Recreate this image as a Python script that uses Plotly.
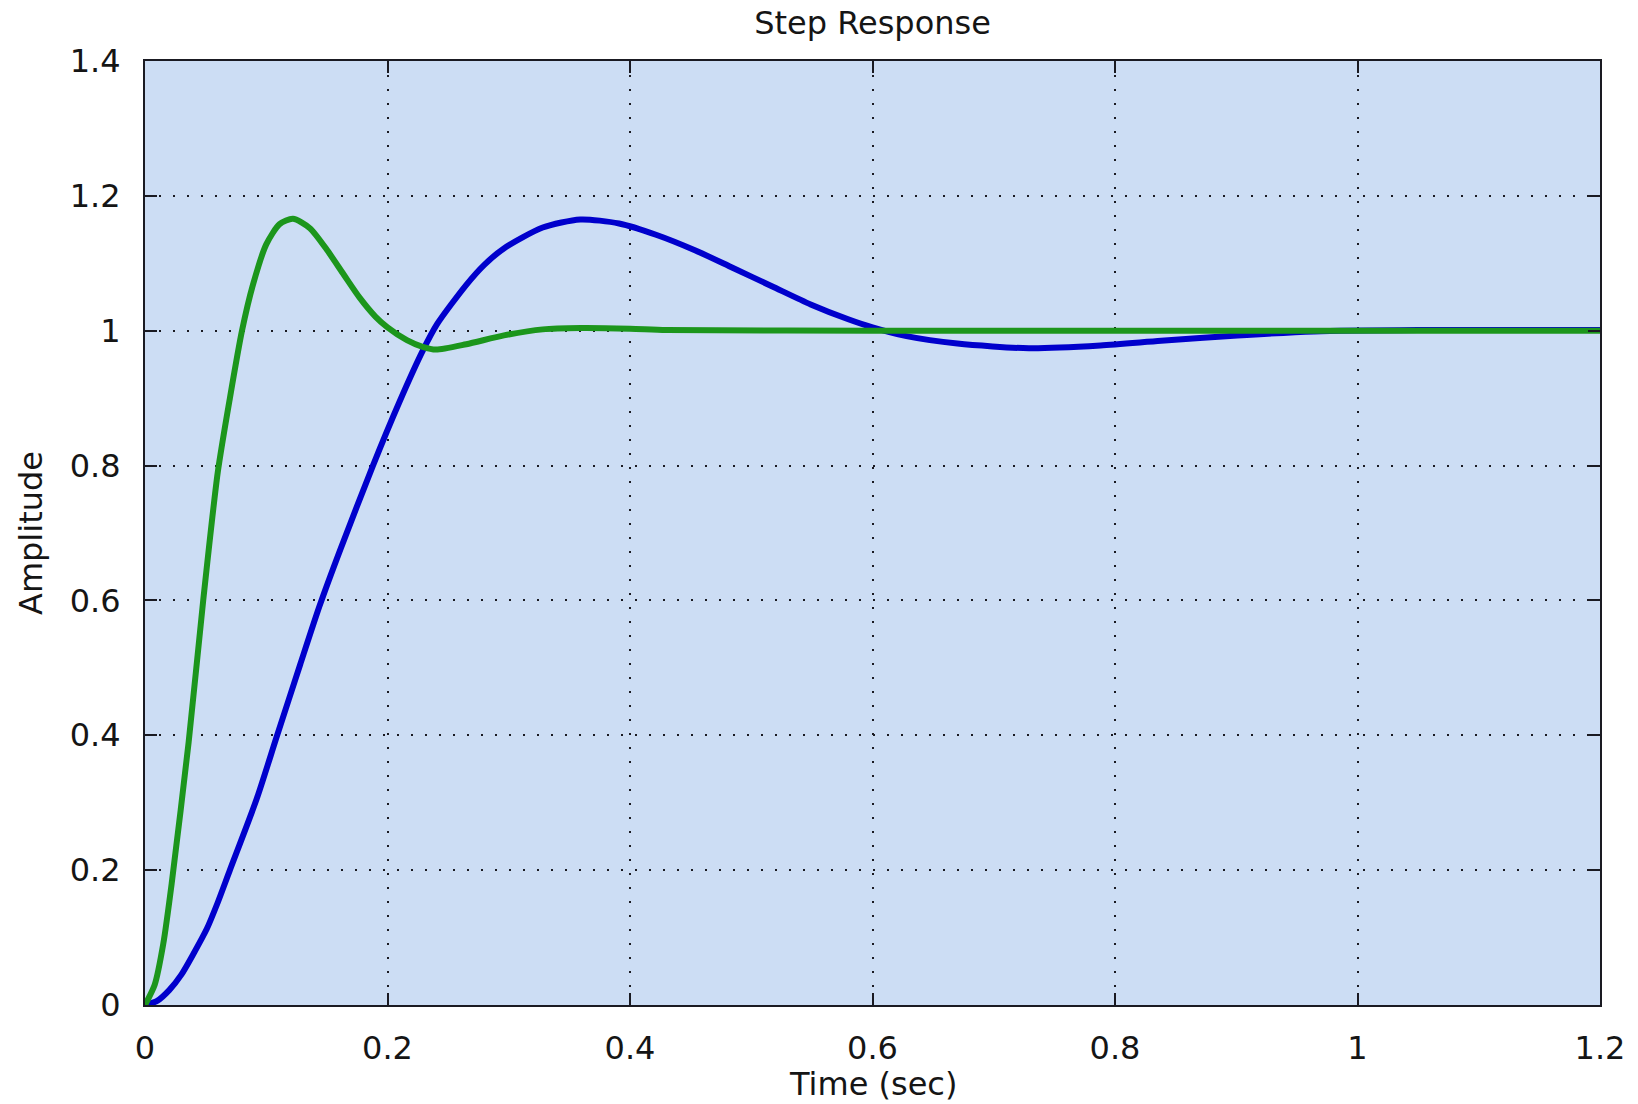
import plotly.graph_objects as go

# Step responses of two closed-loop systems (time in seconds, amplitude)
t_slow = [0, 0.010, 0.020, 0.030, 0.040, 0.051, 0.060, 0.070, 0.092, 0.109, 0.128,
          0.144, 0.161, 0.188, 0.210, 0.229, 0.241, 0.265, 0.280, 0.296, 0.328,
          0.359, 0.391, 0.422, 0.454, 0.485, 0.517, 0.549, 0.580, 0.600, 0.628,
          0.670, 0.729, 0.788, 0.838, 0.901, 0.964, 1.050, 1.200]
y_slow = [0, 0.006, 0.022, 0.045, 0.076, 0.113, 0.152, 0.200, 0.305, 0.400, 0.505,
          0.592, 0.675, 0.800, 0.895, 0.970, 1.010, 1.068, 1.098, 1.122, 1.153,
          1.165, 1.159, 1.142, 1.119, 1.093, 1.066, 1.039, 1.017, 1.005, 0.992,
          0.981, 0.974, 0.978, 0.985, 0.993, 0.999, 1.001, 1.001]

t_fast = [0, 0.008, 0.015, 0.022, 0.036, 0.048, 0.060, 0.070, 0.080, 0.089,
          0.100, 0.111, 0.122, 0.136, 0.150, 0.164, 0.177, 0.190, 0.200, 0.216,
          0.229, 0.240, 0.265, 0.296, 0.328, 0.359, 0.400, 0.430, 0.600, 1.200]
y_fast = [0, 0.03, 0.09, 0.18, 0.39, 0.60, 0.79, 0.90, 1.000, 1.068,
          1.128, 1.158, 1.166, 1.152, 1.120, 1.083, 1.049, 1.021, 1.005, 0.986,
          0.976, 0.972, 0.980, 0.993, 1.002, 1.004, 1.003, 1.001, 1.000, 1.000]

x_ticks = [0, 0.2, 0.4, 0.6, 0.8, 1.0, 1.2]
x_tick_text = ["0", "0.2", "0.4", "0.6", "0.8", "1", "1.2"]
y_ticks = [0, 0.2, 0.4, 0.6, 0.8, 1.0, 1.2, 1.4]
y_tick_text = ["0", "0.2", "0.4", "0.6", "0.8", "1", "1.2", "1.4"]

FONT = "DejaVu Sans, Arial, sans-serif"
FRAME = "#1a1a22"
TEXT = "#151515"

fig = go.Figure()
fig.add_trace(go.Scatter(x=t_slow, y=y_slow, mode="lines",
                         line=dict(color="#0000CC", width=6, shape="spline", smoothing=0.7),
                         showlegend=False, hoverinfo="x+y"))
fig.add_trace(go.Scatter(x=t_fast, y=y_fast, mode="lines",
                         line=dict(color="#1C961C", width=6, shape="spline", smoothing=0.7),
                         showlegend=False, hoverinfo="x+y"))

axis_common = dict(
    showline=True, linecolor=FRAME, linewidth=2, mirror="ticks",
    ticks="inside", ticklen=12, tickwidth=2, tickcolor=FRAME,
    showgrid=True, gridcolor="#1a1a22", gridwidth=2, griddash="2px,12px",
    zeroline=False, tickfont=dict(family=FONT, size=32, color=TEXT),
)

fig.update_xaxes(range=[0, 1.2], tickmode="array", tickvals=x_ticks,
                 ticktext=x_tick_text, ticklabelstandoff=14, **axis_common)
fig.update_yaxes(range=[0, 1.4], tickmode="array", tickvals=y_ticks,
                 ticktext=y_tick_text, ticklabelstandoff=16, **axis_common)

fig.update_layout(
    width=1638, height=1104,
    margin=dict(l=145, r=38, t=61, b=99),
    paper_bgcolor="white",
    plot_bgcolor="#CCDDF4",
    title=dict(text="Step Response", xref="paper", x=0.5, xanchor="center",
               yref="container", y=1 - 23 / 1104, yanchor="middle",
               font=dict(family=FONT, size=32, color=TEXT)),
    annotations=[
        dict(text="Time (sec)", xref="paper", yref="paper", x=0.5, y=0,
             xanchor="center", yanchor="middle", yshift=-79, showarrow=False,
             font=dict(family=FONT, size=32, color=TEXT)),
        dict(text="Amplitude", xref="paper", yref="paper", x=0, y=0.5,
             xanchor="center", yanchor="middle", xshift=-114, textangle=-90,
             showarrow=False, font=dict(family=FONT, size=32, color=TEXT)),
    ],
)

fig.write_html("out.html")
